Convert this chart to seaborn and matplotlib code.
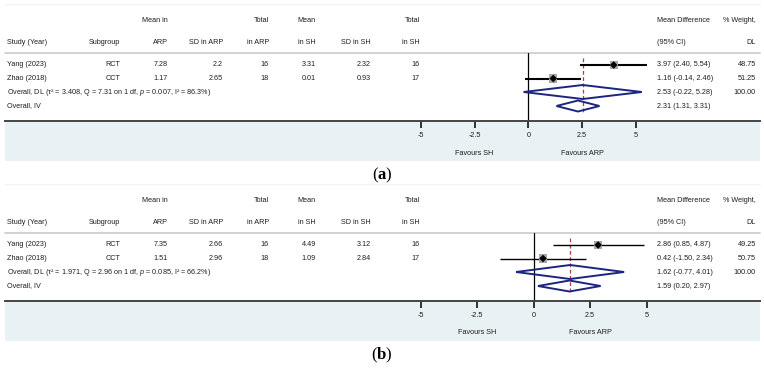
import numpy as np
import pandas as pd
import matplotlib
matplotlib.use('Agg')
import matplotlib.pyplot as plt
import seaborn as sns
from matplotlib.patches import Rectangle, Polygon

sns.set_style('white')
plt.rcParams['font.family'] = ['Liberation Sans', 'DejaVu Sans']
plt.rcParams['mathtext.fontset'] = 'custom'
plt.rcParams['mathtext.rm'] = 'Liberation Sans'
plt.rcParams['mathtext.it'] = 'Liberation Sans:italic'
plt.rcParams['mathtext.bf'] = 'Liberation Serif:bold'

# ---- data ----
studies = ['Yang (2023)', 'Zhao (2018)']
subgroups = ['RCT', 'CCT']

# panel (a)
a_mean_arp = ['7.28', '1.17']
a_sd_arp = ['2.2', '2.65']
a_n_arp = ['16', '18']
a_mean_sh = ['3.31', '0.01']
a_sd_sh = ['2.32', '0.93']
a_n_sh = ['16', '17']
a_md = [3.97, 1.16]
a_lo = [2.40, -0.14]
a_hi = [5.54, 2.46]
a_weight = [48.75, 51.25]
a_dl = (2.53, -0.22, 5.28)
a_iv = (2.31, 1.31, 3.31)
a_het = ('3.408', '7.31', '0.007', '86.3')

# panel (b)
b_mean_arp = ['7.35', '1.51']
b_sd_arp = ['2.66', '2.96']
b_n_arp = ['16', '18']
b_mean_sh = ['4.49', '1.09']
b_sd_sh = ['3.12', '2.84']
b_n_sh = ['16', '17']
b_md = [2.86, 0.42]
b_lo = [0.85, -1.50]
b_hi = [4.87, 2.34]
b_weight = [49.25, 50.75]
b_dl = (1.62, -0.77, 4.01)
b_iv = (1.59, 0.20, 2.97)
b_het = ('1.971', '2.96', '0.085', '66.2')

xticks = [-5, -2.5, 0, 2.5, 5]
xtick_labels = ['-5', '-2.5', '0', '2.5', '5']

W, H = 764, 372
fig = plt.figure(figsize=(W / 100, H / 100), dpi=100)
bg = fig.add_axes([0, 0, 1, 1])
bg.set_xlim(0, W)
bg.set_ylim(H, 0)
bg.axis('off')

TXT = '#1e1e1e'
FS = 5.2
NAVY = '#1c2580'
RED = '#a8403c'
BAND = '#e8f1f3'


def fmt_ci(e, l, h):
    return f'{e:.2f} ({l:.2f}, {h:.2f})'


def panel(off, zero_px, scale, mean_arp, sd_arp, n_arp, mean_sh, sd_sh, n_sh,
          md, lo, hi, weight, dl, iv, het, ci_lw, label):
    rows = [65 + off, 78.5 + off]
    y_dl, y_iv = 92 + off, 106 + off
    h1, h2 = 21 + off, 43 + off
    sep, base = 52.5 + off, 120.5 + off

    # header
    for x, s in [(168, 'Mean in'), (269, 'Total'), (316, 'Mean'), (420, 'Total'), (756, '% Weight,')]:
        bg.text(x, h1, s, ha='right', va='center', fontsize=FS, color=TXT)
    bg.text(657, h1, 'Mean Difference', ha='left', va='center', fontsize=FS, color=TXT)
    bg.text(7, h2, 'Study (Year)', ha='left', va='center', fontsize=FS, color=TXT)
    for x, s in [(120, 'Subgroup'), (168, 'ARP'), (223, 'SD in ARP'), (269, 'in ARP'),
                 (316, 'in SH'), (371, 'SD in SH'), (420, 'in SH'), (756, 'DL')]:
        bg.text(x, h2, s, ha='right', va='center', fontsize=FS, color=TXT)
    bg.text(657, h2, '(95% CI)', ha='left', va='center', fontsize=FS, color=TXT)
    bg.plot([5, 760], [sep, sep], color='#cfcfcf', lw=1.3)
    bg.plot([5, 760], [off + 4, off + 4], color='#f2f2f2', lw=0.8)

    # study rows
    for i, y in enumerate(rows):
        bg.text(7, y, studies[i], ha='left', va='center', fontsize=FS, color=TXT)
        cols = [(120, subgroups[i]), (168, mean_arp[i]), (223, sd_arp[i]), (269, n_arp[i]),
                (316, mean_sh[i]), (371, sd_sh[i]), (420, n_sh[i]), (756, f'{weight[i]:.2f}')]
        for x, s in cols:
            bg.text(x, y, s, ha='right', va='center', fontsize=FS, color=TXT)
        bg.text(657, y, fmt_ci(md[i], lo[i], hi[i]), ha='left', va='center', fontsize=FS, color=TXT)

    t2, q, p, i2 = het
    bg.text(7, y_dl, f'Overall, DL (τ² = {t2}, Q = {q} on 1 df, $p$ = {p}, I² = {i2}%)',
            ha='left', va='center', fontsize=FS, color=TXT)
    bg.text(657, y_dl, fmt_ci(*dl), ha='left', va='center', fontsize=FS, color=TXT)
    bg.text(756, y_dl, '100.00', ha='right', va='center', fontsize=FS, color=TXT)
    bg.text(7, y_iv, 'Overall, IV', ha='left', va='center', fontsize=FS, color=TXT)
    bg.text(657, y_iv, fmt_ci(*iv), ha='left', va='center', fontsize=FS, color=TXT)

    # bottom band
    bg.add_patch(Rectangle((5, base), 755, 40.5, color=BAND, lw=0, zorder=0))
    bg.text(382, 175 + off, rf'($\mathbf{{{label}}}$)', ha='center', va='center',
            fontsize=12, family='Liberation Serif', color='black')

    # forest axes
    ax = fig.add_axes([5 / W, 1 - base / H, 755 / W, (base - sep) / H])
    ax.patch.set_alpha(0)
    ax.set_xlim((5 - zero_px) / scale, (760 - zero_px) / scale)
    ax.set_ylim(base, sep)
    for s in ['top', 'left', 'right']:
        ax.spines[s].set_visible(False)
    ax.spines['bottom'].set_color('#444444')
    ax.spines['bottom'].set_linewidth(1.4)
    ax.set_yticks([])
    ax.set_xticks(xticks)
    ax.set_xticklabels(xtick_labels)
    ax.tick_params(axis='x', direction='out', length=5, width=1.1, color='black',
                   pad=3.5, labelsize=FS, labelcolor=TXT, bottom=True)

    ax.axvline(0, color='black', lw=0.9)
    ax.vlines(dl[0], rows[0] - 7, y_iv + 6, color=RED, lw=0.9, ls=(0, (3, 2)), zorder=1)

    df = pd.DataFrame({'md': md, 'y': rows, 'w': weight})
    ax.hlines(df['y'], lo, hi, color='black', lw=ci_lw, zorder=2)
    sns.scatterplot(data=df, x='md', y='y', size='w', sizes=(min(weight) * 0.7, max(weight) * 0.7),
                    marker='s', color='#a8a8a8', edgecolor='none', legend=False, ax=ax, zorder=3)
    sns.scatterplot(data=df, x='md', y='y', marker='D', color='black', s=15,
                    edgecolor='none', legend=False, ax=ax, zorder=4)

    for (e, l, h), y, hh in [(dl, y_dl, 7), (iv, y_iv, 5.5)]:
        ax.add_patch(Polygon([(l, y), (e, y - hh), (h, y), (e, y + hh)], closed=True,
                             fill=False, edgecolor=NAVY, lw=1.4, zorder=5))

    ax.text(-2.5, 153 + off, 'Favours SH', ha='center', va='center', fontsize=FS, color=TXT, clip_on=False)
    ax.text(2.5, 153 + off, 'Favours ARP', ha='center', va='center', fontsize=FS, color=TXT, clip_on=False)
    ax.set_xlabel('')
    ax.set_ylabel('')


panel(0, 528.3, 21.5, a_mean_arp, a_sd_arp, a_n_arp, a_mean_sh, a_sd_sh, a_n_sh,
      a_md, a_lo, a_hi, a_weight, a_dl, a_iv, a_het, 1.5, 'a')
panel(180, 533.5, 22.6, b_mean_arp, b_sd_arp, b_n_arp, b_mean_sh, b_sd_sh, b_n_sh,
      b_md, b_lo, b_hi, b_weight, b_dl, b_iv, b_het, 1.0, 'b')

fig.savefig('out.png', dpi=100)
